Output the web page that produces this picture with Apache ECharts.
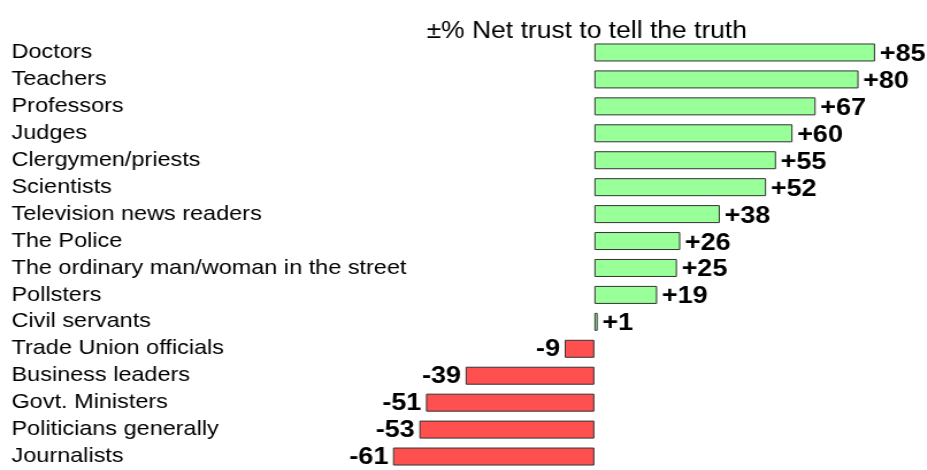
<!DOCTYPE html>
<html>
<head>
<meta charset="utf-8">
<script src="https://cdn.jsdelivr.net/npm/echarts@6/dist/echarts.min.js"></script>
<style>
  html,body{margin:0;padding:0;background:#fff;overflow:hidden;}
  /* the original picture is a little stretched sideways, so the whole chart is too */
  #chart{width:806px;height:470px;transform:scaleX(1.15);transform-origin:0 0;}
</style>
</head>
<body>
<div id="chart"></div>
<script>
var titleText = '±% Net trust to tell the truth';
var categories = ['Doctors','Teachers','Professors','Judges','Clergymen/priests','Scientists',
  'Television news readers','The Police','The ordinary man/woman in the street','Pollsters',
  'Civil servants','Trade Union officials','Business leaders','Govt. Ministers',
  'Politicians generally','Journalists'];
var netTrust = [85, 80, 67, 60, 55, 52, 38, 26, 25, 19, 1, -9, -39, -51, -53, -61];

var FONT = '"Liberation Sans", Arial, sans-serif';
var chart = echarts.init(document.getElementById('chart'));

var barData = netTrust.map(function(v){
  var pos = v >= 0;
  return {
    value: v,
    itemStyle: { color: pos ? '#99ff99' : '#ff5050' },
    label: {
      position: pos ? 'right' : 'left',
      offset: pos ? [0, 2] : [0, 1]
    }
  };
});

chart.setOption({
  animation: false,
  backgroundColor: '#fff',
  title: {
    text: titleText,
    left: 366,
    top: 15,
    textStyle: { fontSize: 23, fontWeight: 'normal', color: '#000', fontFamily: FONT }
  },
  grid: { left: -1, top: 39, width: 805, height: 435 },
  xAxis: { type: 'value', min: -180, max: 100, show: false },
  yAxis: {
    type: 'category',
    inverse: true,
    data: categories,
    axisLine: { show: false },
    axisTick: { show: false },
    axisLabel: {
      inside: true,
      margin: 10,
      color: '#000',
      fontSize: 20.4,
      fontFamily: FONT
    }
  },
  series: [{
    type: 'bar',
    data: barData,
    barWidth: 18,
    itemStyle: { borderColor: '#333', borderWidth: 1 },
    label: {
      show: true,
      distance: 4,
      color: '#000',
      fontSize: 23.5,
      fontWeight: 'bold',
      fontFamily: FONT,
      formatter: function(p){ return (p.value > 0 ? '+' : '') + p.value; }
    }
  }]
});
</script>
</body>
</html>
